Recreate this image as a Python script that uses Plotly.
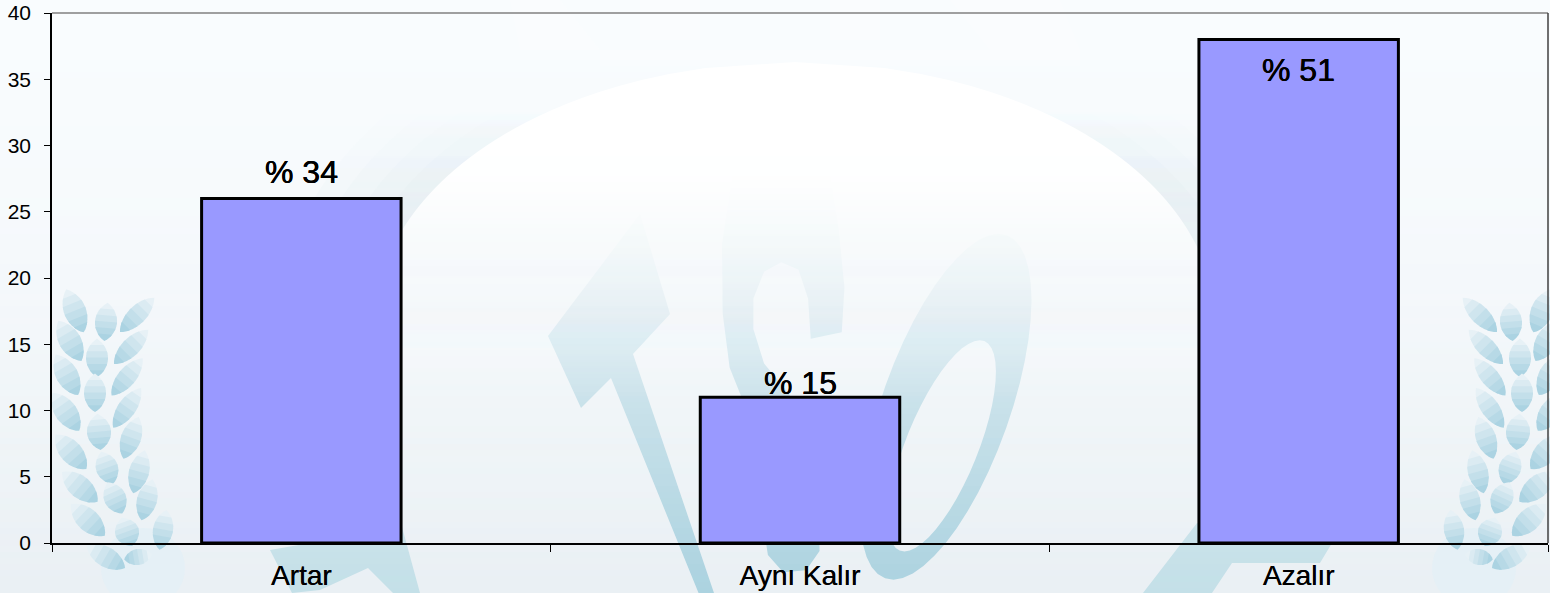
import math
import plotly.graph_objects as go

categories = ["Artar", "Aynı Kalır", "Azalır"]
values = [26, 11, 38]
bar_labels = ["% 34", "% 15", "% 51"]
label_levels = [28.0, 12.05, 35.7]
y_ticks = [0, 5, 10, 15, 20, 25, 30, 35, 40]

W, H = 1550, 593
L, R, T, B = 52, 1548, 13, 543
FONT = "Liberation Sans, Arial, sans-serif"
BOLDISH = "0.25px 0 0 #000, -0.25px 0 0 #000"

def px(x): return (x - L) / (R - L)
def py(y): return 1 - (y - T) / (B - T)
def lerp(a, b, t): return a + (b - a) * t

def bg_rgb(y):
    t = (y / H) ** 1.5
    return (round(lerp(249, 234, t)), round(lerp(252, 240, t)), round(lerp(254, 244, t)))

shapes = []
def rect(x0, y0, x1, y1, color):
    shapes.append(dict(type="rect", xref="paper", yref="paper", layer="below",
                       x0=px(x0), x1=px(x1), y0=py(y0), y1=py(y1),
                       fillcolor=color, line_width=0))
def poly(points, color, hole=None):
    def seg(pts):
        s = "M %.5f %.5f" % (px(pts[0][0]), py(pts[0][1]))
        for p in pts[1:]:
            s += " L %.5f %.5f" % (px(p[0]), py(p[1]))
        return s + " Z"
    d = seg(points)
    if hole:
        d += " " + seg(hole)
    shapes.append(dict(type="path", xref="paper", yref="paper", layer="below",
                       path=d, fillcolor=color, line_width=0))

def ell(cx, cy, a, b, deg, n=48, rev=False):
    r = math.radians(deg)
    out = []
    for i in range(n):
        t = 2 * math.pi * i / n * (-1 if rev else 1)
        ex, ey = a * math.cos(t), b * math.sin(t)
        out.append((cx + ex * math.cos(r) - ey * math.sin(r),
                    cy + ex * math.sin(r) + ey * math.cos(r)))
    return out

def dome_strips(cx, cy, ea, eb, y_end, step, alpha, rgb):
    y = int(cy - eb)
    while y < y_end:
        u0 = max(-1, min(1, (cy - y) / eb))
        u1 = max(-1, min(1, (cy - y - step) / eb))
        h0 = ea * math.sqrt(1 - u0 * u0)
        h1 = ea * math.sqrt(1 - u1 * u1)
        a = alpha(y)
        if a > 0.004:
            poly([(cx - h0, y), (cx + h0, y), (cx + h1, y + step), (cx - h1, y + step)],
                 "rgba(%d,%d,%d,%.3f)" % (rgb[0], rgb[1], rgb[2], a))
        y += step

STEP = 6
for y in range(0, H, STEP):
    rect(0, y, W, y + STEP, "rgb(%d,%d,%d)" % bg_rgb(y + STEP / 2))

LOGO = "rgb(172,211,224)"
WEDGE = "rgb(196,224,232)"
def z(p):
    return (500 + p[0] / 2.613, p[1] / 2.613)

poly([(640, 214), (670, 314), (633, 354), (714, 593), (701, 599), (611, 378), (581, 408), (548, 336)], LOGO)
poly([z(p) for p in [(610, 440), (860, 440), (885, 600), (900, 750), (893, 868), (812, 885), (805, 780),
                     (780, 705), (735, 685), (690, 710), (662, 780), (662, 860), (690, 950), (740, 1010),
                     (830, 1130), (835, 1440), (800, 1490), (740, 1495), (700, 1450), (640, 1060), (600, 960),
                     (582, 820), (580, 640)]], LOGO)
oc = z((1165, 1055))
hc = z((1155, 1165))
poly(ell(oc[0], oc[1] + 3, 182, 64, -70.5), LOGO, hole=ell(hc[0], hc[1], 113, 36, -68, rev=True))
poly([(270, 550), (402, 527), (420, 593), (393, 593), (368, 568), (320, 590), (292, 593)], WEDGE)
poly([(1197, 523), (1143, 593), (1212, 593), (1232, 563), (1320, 563), (1332, 543)], WEDGE)

for y in range(0, H, STEP):
    a = max(0.0, min(1.0, (590 - y) / 440))
    c = bg_rgb(y + STEP / 2)
    rect(0, y, W, y + STEP, "rgba(%d,%d,%d,%.3f)" % (c[0], c[1], c[2], a))

cx, cy, ea, eb = 795, 322, 420, 260
def halo_alpha(y):
    if y < 100 or y >= 360:
        return 0.0
    return 0.09 * min((y - 100) / 100, (360 - y) / 160, 1.0)
for grow in (80, 60, 40, 20):
    dome_strips(cx, cy, ea + grow * 1.2, eb + grow, 360, 6, halo_alpha, (205, 224, 230))
dome_strips(cx, cy, ea, eb, 400, 6,
            lambda y: 0.95 if y < 170 else max(0.0, 0.95 * (400 - y) / 230), (255, 255, 255))

for pts in [[(600, 50), (1080, 50), (1080, 66), (600, 66)],
            [(510, 0), (560, 0), (600, 50), (520, 50)],
            [(950, 0), (1060, 0), (1080, 50), (990, 50)],
            [(640, 0), (700, 0), (700, 40), (640, 40)],
            [(830, 0), (880, 0), (880, 40), (830, 40)]]:
    poly(pts, "rgba(255,255,255,0.22)")

leaves = [(75, 311, 68, 23, 11), (70, 341, 60, 23, 11), (67, 375, 61, 23, 11), (66, 412, 55, 23, 11),
          (71, 452, 48, 23, 11), (80, 487, 40, 23, 11), (88, 520, 43, 23, 11), (106, 557, 30, 22, 10),
          (106, 322, 95, 19, 11), (97, 358, 90, 19, 11), (95, 393, 90, 19, 11), (99, 432, 85, 18, 12),
          (107, 468, 70, 17, 11), (115, 498, 65, 17, 11), (127, 532, 70, 15, 12), (138, 557, 170, 14, 8),
          (137, 315, 135, 24, 9), (131, 347, 135, 24, 9), (127, 377, 130, 24, 9), (127, 408, 125, 24, 9),
          (131, 438, 110, 22, 10), (139, 472, 105, 22, 10), (147, 500, 105, 21, 10), (163, 530, 100, 20, 10)]
MIRROR = 1617
LEAF_STEPS = 6
def lens_strip(cx, cy, a, b, deg, t0, t1):
    r = math.radians(deg)
    def w(s):
        return b * max(0.0, 1 - s * s) ** 0.8
    pts = []
    n = 4
    ss = [lerp(t0, t1, i / n) for i in range(n + 1)]
    for s in ss:
        pts.append((s * a, -w(s)))
    for s in reversed(ss):
        pts.append((s * a, w(s)))
    return [(cx + p * math.cos(r) - q * math.sin(r), cy + p * math.sin(r) + q * math.cos(r)) for p, q in pts]

for side in (0, 1):
    sx = (lambda v: v) if side == 0 else (lambda v: MIRROR - v)
    poly(ell(sx(143), 568, 42, 40, 0), "rgba(228,240,246,0.8)")
    for lx, ly, ang, la, lb in leaves:
        d = ang if side == 0 else 180 - ang
        # each later strip overlaps the earlier one's end, hiding seams
        for i in range(LEAF_STEPS):
            t0 = -1 + 2 * i / LEAF_STEPS
            t1 = min(1.0, t0 + 2 / LEAF_STEPS + 0.08)
            f = (i + 0.5) / LEAF_STEPS
            col = "rgb(%d,%d,%d)" % (lerp(238, 165, f), lerp(245, 208, f), lerp(249, 224, f))
            poly(lens_strip(sx(lx), ly, la, lb, d, t0 - 0.02, t1), col)

shapes.append(dict(type="line", xref="paper", yref="paper", layer="above", x0=0, x1=1, y0=1, y1=1,
                   line=dict(color="#808080", width=1.5)))
shapes.append(dict(type="line", xref="paper", yref="paper", layer="above", x0=1, x1=1, y0=0, y1=1,
                   line=dict(color="#404040", width=1.5)))

fig = go.Figure(go.Bar(x=categories, y=values, width=0.4,
                       marker=dict(color="#9999ff", line=dict(color="#000000", width=3)),
                       hoverinfo="skip"))
for cat, lev, lab in zip(categories, label_levels, bar_labels):
    fig.add_annotation(x=cat, y=lev, text=lab, showarrow=False, xanchor="center", yanchor="middle",
                       font=dict(family=FONT, size=32, color="#000000", shadow=BOLDISH))
fig.update_layout(
    width=W, height=H, margin=dict(l=L, r=W - R, t=T, b=H - B),
    paper_bgcolor="#f2f6f9", plot_bgcolor="rgba(0,0,0,0)", showlegend=False,
    shapes=shapes, font=dict(family=FONT, color="#000000"),
)
fig.update_xaxes(type="category", tickson="boundaries", ticks="outside", ticklen=7, tickwidth=1, tickcolor="#000000",
                 showline=True, linecolor="#000000", linewidth=1.5, showgrid=False, zeroline=False,
                 tickfont=dict(family=FONT, size=28, color="#000000", shadow="0.2px 0 0 #000"), ticklabelstandoff=7)
fig.update_yaxes(range=[0, 40], tickvals=y_ticks, ticks="outside", ticklen=6, tickwidth=1, tickcolor="#000000",
                 showline=True, linecolor="#000000", linewidth=1.5, showgrid=False, zeroline=False,
                 tickfont=dict(family=FONT, size=21, color="#000000"), ticklabelstandoff=9)
fig.write_html("out.html", config={"displayModeBar": False},
               post_script="document.body.style.margin='0';document.body.style.overflow='hidden';")
